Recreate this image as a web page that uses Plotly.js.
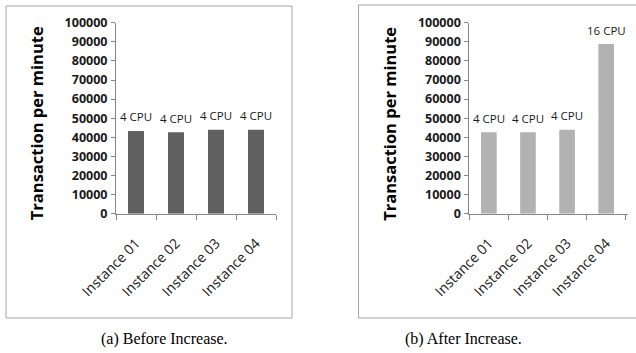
<!DOCTYPE html>
<html>
<head>
<meta charset="utf-8">
<script src="https://cdn.plot.ly/plotly-3.0.1.min.js"></script>
<style>html,body{margin:0;padding:0;background:#fff;}#chart{width:636px;height:353px;}</style>
</head>
<body>
<div id="chart"></div>
<script>
const categories = ['Instance 01', 'Instance 02', 'Instance 03', 'Instance 04'];
const beforeValues = [43300, 42600, 44000, 44000];
const afterValues = [42600, 42600, 44000, 88800];
const beforeLabels = ['4 CPU', '4 CPU', '4 CPU', '4 CPU'];
const afterLabels = ['4 CPU', '4 CPU', '4 CPU', '16 CPU'];
const yTitle = 'Transaction per minute';
const captions = ['(a) Before Increase.', '(b) After Increase.'];

const W = 636, H = 353;
const px = v => v / W;
const py = v => (H - v) / H;

const tickFont = {family: 'Open Sans, sans-serif', size: 12.5, color: '#1a1a1a', weight: 'bold'};
const catFont = {family: 'Open Sans, sans-serif', size: 14, color: '#1a1a1a'};

const traces = [
  {type: 'bar', x: categories, y: beforeValues, xaxis: 'x', yaxis: 'y',
   marker: {color: '#606060'}, hoverinfo: 'none'},
  {type: 'bar', x: categories, y: afterValues, xaxis: 'x2', yaxis: 'y2',
   marker: {color: '#b2b2b2'}, hoverinfo: 'none'}
];

const yax = (dom) => ({
  domain: dom, range: [0, 100000], dtick: 10000, tick0: 0, tickformat: 'd',
  showgrid: false, zeroline: false, showline: true, linecolor: '#868686', linewidth: 1,
  ticks: 'outside', ticklen: 4, tickcolor: '#868686', tickfont: tickFont, ticklabelstandoff: 1,
  fixedrange: true
});
const xax = (dom, anchor) => ({
  domain: dom, anchor: anchor, showgrid: false, zeroline: false, showline: true,
  linecolor: '#868686', linewidth: 1, ticks: 'outside', ticklen: 5, tickcolor: '#868686',
  tickson: 'boundaries', tickangle: -45, tickfont: catFont, ticklabelstandoff: 15,
  fixedrange: true
});

const ydom = [py(213.7), py(22.7)];
const annotations = [];
function addLabels(xref, yref, vals, labels) {
  vals.forEach((v, i) => {
    annotations.push({xref: xref, yref: yref, x: categories[i], y: v, text: labels[i],
      showarrow: false, yanchor: 'middle', yshift: 14,
      font: {family: 'Open Sans, sans-serif', size: 11.5, color: '#1a1a1a'}});
  });
}
addLabels('x', 'y', beforeValues, beforeLabels);
addLabels('x2', 'y2', afterValues, afterLabels);

[[36.7, 123.5], [389.3, 123.5]].forEach(p => {
  annotations.push({xref: 'paper', yref: 'paper', x: px(p[0]), y: py(p[1]), text: '<b>' + yTitle + '</b>',
    textangle: -90, showarrow: false, xanchor: 'center', yanchor: 'middle',
    font: {family: 'Open Sans, sans-serif', size: 16.5, color: '#000'}});
});
[[164, 339], [464, 339]].forEach((p, i) => {
  annotations.push({xref: 'paper', yref: 'paper', x: px(p[0]), y: py(p[1]), text: captions[i],
    showarrow: false, xanchor: 'center', yanchor: 'middle',
    font: {family: 'Liberation Serif, Times New Roman, serif', size: 16, color: '#000'}});
});

const layout = {
  width: W, height: H, margin: {l: 0, r: 0, t: 0, b: 0},
  paper_bgcolor: '#fff', plot_bgcolor: 'rgba(0,0,0,0)', showlegend: false,
  bargap: 0.6,
  xaxis: xax([px(116), px(276)], 'y'),
  yaxis: yax(ydom),
  xaxis2: xax([px(469.3), px(627.7)], 'y2'),
  yaxis2: Object.assign(yax(ydom), {anchor: 'x2'}),
  annotations: annotations,
  shapes: [
    {type: 'rect', xref: 'paper', yref: 'paper', x0: px(6), x1: px(292), y0: py(318), y1: py(6),
     line: {color: '#a6a6a6', width: 1}},
    {type: 'rect', xref: 'paper', yref: 'paper', x0: px(358.5), x1: px(645), y0: py(318), y1: py(5),
     line: {color: '#a6a6a6', width: 1}}
  ]
};
layout.yaxis.anchor = 'x';

Plotly.newPlot('chart', traces, layout, {staticPlot: true, displayModeBar: false});
</script>
</body>
</html>
